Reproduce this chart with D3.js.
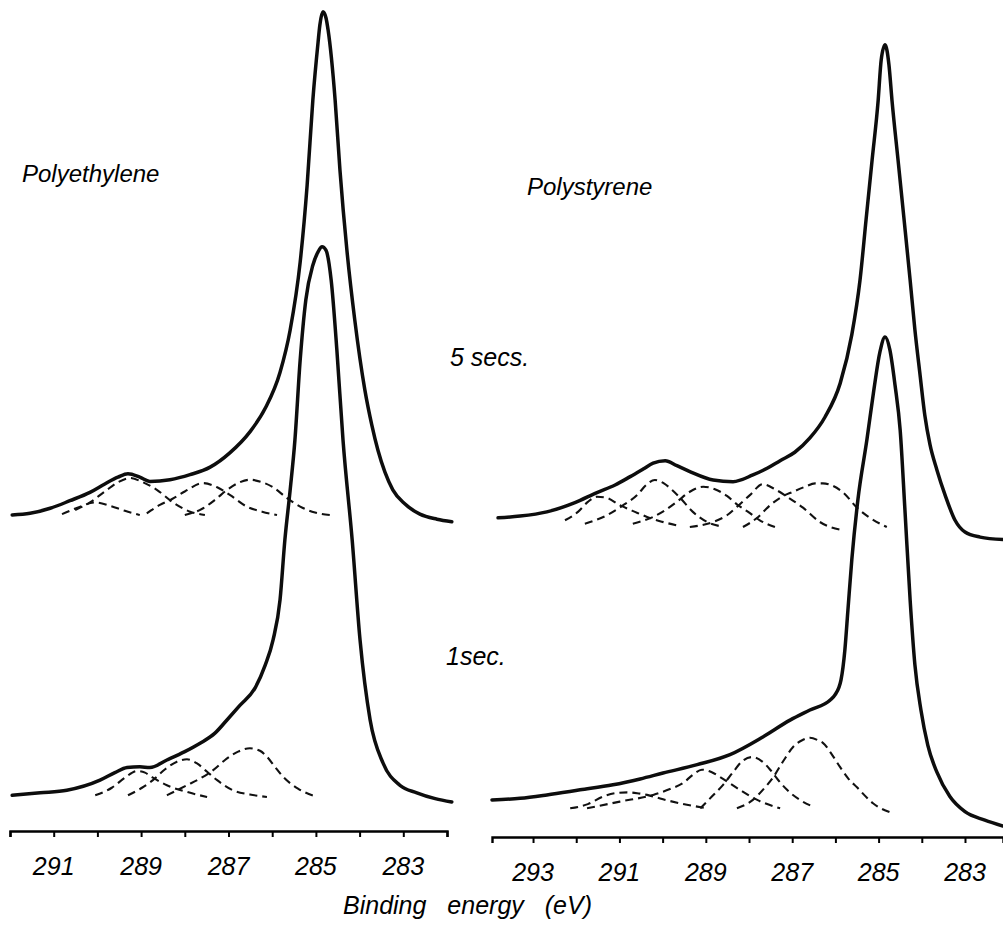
<!DOCTYPE html>
<html><head><meta charset="utf-8">
<script src="https://cdn.jsdelivr.net/npm/d3@7"></script>
<style>body{margin:0;background:#fff}svg{display:block}</style>
</head><body><svg id="c" width="1003" height="928"></svg>
<script>
// ---------- DATA (binding energy in eV, intensity in arbitrary units) ----------
// Polyethylene, 5 secs (measured envelope)
const pe5E = [291.95,291.54,291.08,290.63,290.17,289.83,289.53,289.30,289.03,288.80,288.34,287.88,287.42,286.97,286.51,286.16,285.82,285.59,285.36,285.20,285.07,284.95,284.91,284.84,284.77,284.72,284.56,284.45,284.29,284.11,283.88,283.72,283.58,283.42,283.24,282.96,282.62,282.23,281.89];
const pe5I = [0,0.2,0.8,1.7,2.7,3.7,4.5,4.9,4.5,4.0,4.2,4.8,5.7,7.4,9.9,12.7,17.0,22.0,30.1,39.3,49.4,56.3,58.3,59.9,59.2,57.7,49.4,41.1,31.5,23.2,14.9,10.7,7.7,5.1,3.0,1.3,0.1,-0.5,-0.8];
// Polyethylene, 1 sec
const pe1E = [291.95,291.31,290.70,289.94,289.60,289.32,289.03,288.80,288.41,288.00,287.65,287.31,287.03,286.74,286.39,286.16,285.98,285.82,285.71,285.59,285.48,285.36,285.23,285.07,284.95,284.86,284.77,284.65,284.52,284.38,284.17,283.99,283.76,283.46,283.08,282.69,282.27,281.89];
const pe1I = [0.2,0.5,0.8,2.0,2.9,3.5,3.6,3.5,4.4,5.4,6.4,7.6,9.2,10.9,13.0,15.7,18.7,23.5,30.6,36.5,42.5,52.0,59.2,63.3,64.9,65.5,65.1,61.5,53.2,42.5,30.6,18.7,9.2,4.0,1.4,0.5,-0.2,-0.6];
// Polystyrene, 5 secs
const ps5E = [293.81,293.30,292.68,292.03,291.52,291.10,290.75,290.45,290.22,289.94,289.67,289.37,288.83,288.37,287.91,287.58,287.28,286.94,286.59,286.24,285.89,285.62,285.43,285.29,285.15,285.01,284.94,284.85,284.76,284.69,284.55,284.41,284.27,284.16,284.04,283.93,283.81,283.65,283.46,283.23,283.00,282.65,282.12];
const ps5I = [0.5,0.7,1.2,2.3,3.5,4.4,5.4,6.3,7.0,7.3,6.7,6.0,5.0,4.8,5.6,6.4,7.3,8.3,10.0,12.5,16.5,22.3,28.8,36.0,43.1,50.2,55.0,56.8,54.4,50.2,43.1,36.0,28.8,22.9,17.5,12.7,9.2,6.2,3.2,0.2,-1.2,-1.8,-2.1];
// Polystyrene, 1 sec
const ps1E = [293.95,293.30,292.68,291.91,291.15,290.52,289.99,289.20,288.44,287.68,287.05,286.59,286.12,286.01,285.87,285.78,285.71,285.62,285.48,285.27,285.11,284.97,284.85,284.74,284.62,284.50,284.39,284.27,284.16,284.02,283.86,283.65,283.35,283.00,282.54,282.12];
const ps1I = [0.6,0.8,1.2,1.8,2.4,3.1,3.8,4.8,6.0,8.1,10.1,11.3,12.5,13.1,14.9,18.5,23.2,29.2,36.3,43.5,49.4,53.9,55.7,54.2,50.0,44.6,35.1,24.4,16.7,11.3,7.1,3.9,1.0,-0.8,-1.8,-2.5];

// Fitted component peaks (dashed), [energy, intensity]
const pe5PeakB = [[290.81,0.1],[290.44,0.9],[290.05,1.5],[289.71,1.1],[289.37,0.5],[289.03,0]];
const pe5PeakA = [[290.51,0.6],[290.17,1.5],[289.83,2.8],[289.53,3.9],[289.25,4.4],[288.96,3.9],[288.64,3.0],[288.27,1.5],[287.88,0.4],[287.54,0]];
const pe5PeakC = [[288.87,0.2],[288.57,1.2],[288.29,1.9],[288.00,2.8],[287.58,3.8],[287.26,3.3],[286.97,2.4],[286.58,1.0],[286.23,0.4],[285.89,0]];
const pe5PeakD = [[288.00,0],[287.58,0.8],[287.31,1.8],[287.03,3.0],[286.74,3.9],[286.51,4.2],[286.23,3.9],[285.98,3.3],[285.66,2.0],[285.36,1.0],[285.02,0.3],[284.68,0]];

const pe1PeakA = [[290.05,0.2],[289.67,1.1],[289.37,2.3],[289.09,3.1],[288.91,2.9],[288.73,2.3],[288.41,1.4],[287.95,0.6],[287.49,0]];
const pe1PeakB = [[289.30,0.2],[288.98,1.1],[288.73,2.0],[288.45,3.3],[288.18,4.2],[287.95,4.5],[287.72,4.0],[287.49,3.0],[287.26,2.0],[286.90,0.8],[286.51,0.3],[286.12,0]];
const pe1PeakC = [[288.41,0.2],[287.95,1.4],[287.65,2.2],[287.35,3.2],[287.08,4.4],[286.78,5.4],[286.51,5.8],[286.28,5.5],[286.12,4.8],[285.94,3.6],[285.75,2.4],[285.41,1.0],[284.97,0]];

const ps5Peak0 = [[292.26,0.2],[291.96,1.2],[291.73,2.4],[291.52,3.0],[291.31,2.9],[290.99,2.0],[290.64,1.2],[290.36,0.6],[290.06,0.1],[289.67,-0.4]];
const ps5Peak1 = [[291.80,-0.2],[291.29,0.8],[290.94,1.9],[290.59,3.2],[290.38,4.4],[290.18,5.0],[289.97,4.6],[289.78,3.8],[289.60,2.9],[289.30,1.2],[288.97,0],[288.67,-0.5]];
const ps5Peak2 = [[290.69,-0.2],[290.22,0.6],[289.94,1.4],[289.67,2.4],[289.37,3.6],[289.06,4.2],[288.79,3.9],[288.51,3.1],[288.28,2.1],[288.02,1.2],[287.75,0.2],[287.40,-0.6]];
const ps5Peak3 = [[289.37,-0.6],[288.83,0],[288.51,0.8],[288.28,1.8],[287.98,3.2],[287.68,4.5],[287.40,3.9],[287.12,3.0],[286.75,1.7],[286.36,0],[285.82,-1.0]];
const ps5Peak4 = [[288.14,-0.6],[287.81,0.5],[287.51,2.0],[287.24,3.0],[286.98,3.6],[286.70,4.2],[286.47,4.6],[286.29,4.6],[286.06,4.3],[285.82,3.5],[285.50,1.7],[285.20,0.5],[284.81,-0.6]];

const ps1Peak0 = [[292.14,-0.4],[291.73,0.1],[291.38,1.0],[291.10,1.4],[290.82,1.5],[290.59,1.4],[290.36,1.2],[290.01,0.7],[289.60,0.2],[288.97,-0.4]];
const ps1Peak1 = [[291.75,-0.4],[290.99,0.4],[290.22,1.2],[289.83,1.9],[289.53,2.6],[289.30,3.6],[289.09,4.2],[288.86,3.9],[288.63,3.2],[288.21,1.8],[287.81,0.6],[287.28,-0.4]];
const ps1Peak2 = [[289.13,-0.4],[288.86,1.0],[288.60,2.4],[288.37,3.9],[288.16,5.2],[287.93,5.7],[287.70,5.2],[287.51,4.2],[287.33,3.0],[287.12,1.8],[286.82,0.6],[286.52,-0.2]];
const ps1Peak3 = [[288.28,-0.4],[287.91,0.6],[287.68,1.8],[287.44,3.3],[287.21,5.2],[286.98,6.9],[286.77,7.7],[286.59,8.0],[286.40,7.7],[286.29,7.4],[286.08,6.0],[285.89,4.5],[285.71,3.2],[285.50,2.1],[285.13,0.2],[284.67,-1.0]];

// vertical stacking offsets of each spectrum (intensity units)
const pe5Offset = 38.69, pe1Offset = 5.12, ps5Offset = 37.86, ps1Offset = 4.17;

// axis ticks and labels
const leftTicks = [282,283,284,285,286,287,288,289,290,291,292];
const leftLabels = [291,289,287,285,283];
const rightTicks = [283,284,285,286,287,288,289,290,291,292,293];
const rightLabels = [293,291,289,287,285,283];
const panelTitles = ["Polyethylene","Polystyrene"];
const timeLabels = ["5 secs.","1sec."];
const xTitle = "Binding energy (eV)";

// ---------- DRAWING ----------
const svg = d3.select("#c");
svg.append("rect").attr("width",1003).attr("height",928).attr("fill","#fff");
const y = d3.scaleLinear().domain([0,100]).range([840,0]);
const xL = d3.scaleLinear().domain([292,282]).range([10,447]);
const xR = d3.scaleLinear().domain([293.95,282.12]).range([492,1003]);
const font = "'Liberation Sans', Arial, sans-serif";

function zip(E,I){ return E.map((e,i)=>[e,I[i]]); }
function lineFor(x, off){
  return d3.line().x(d=>x(d[0])).y(d=>y(d[1]+off)).curve(d3.curveMonotoneX);
}
function dashed(x, off, pts){
  svg.append("path").attr("d", lineFor(x,off)(pts))
    .attr("fill","none").attr("stroke","#111").attr("stroke-width",2.1)
    .attr("stroke-dasharray","8,5");
}
function solid(x, off, pts){
  svg.append("path").attr("d", lineFor(x,off)(pts))
    .attr("fill","none").attr("stroke","#0d0d0d").attr("stroke-width",3.5)
    .attr("stroke-linejoin","round").attr("stroke-linecap","round");
}

[pe5PeakB,pe5PeakA,pe5PeakC,pe5PeakD].forEach(p=>dashed(xL,pe5Offset,p));
[pe1PeakA,pe1PeakB,pe1PeakC].forEach(p=>dashed(xL,pe1Offset,p));
[ps5Peak0,ps5Peak1,ps5Peak2,ps5Peak3,ps5Peak4].forEach(p=>dashed(xR,ps5Offset,p));
[ps1Peak0,ps1Peak1,ps1Peak2,ps1Peak3].forEach(p=>dashed(xR,ps1Offset,p));

solid(xL,pe1Offset,zip(pe1E,pe1I));
solid(xL,pe5Offset,zip(pe5E,pe5I));
solid(xR,ps1Offset,zip(ps1E,ps1I));
solid(xR,ps5Offset,zip(ps5E,ps5I));

// axes
function drawAxis(x, ticks, labels, yPos){
  const g = svg.append("g").attr("transform",`translate(0,${yPos})`)
    .call(d3.axisBottom(x).tickValues(ticks).tickSize(6).tickSizeOuter(6).tickFormat(""));
  g.select(".domain").attr("stroke","#000").attr("stroke-width",2.4);
  g.selectAll(".tick line").attr("stroke","#000").attr("stroke-width",2);
  svg.selectAll(null).data(labels).enter().append("text")
    .attr("x",d=>x(d)).attr("y",yPos+44)
    .attr("text-anchor","middle")
    .attr("font-family",font).attr("font-style","italic")
    .attr("font-size",25).attr("fill","#000")
    .text(d=>d);
}
drawAxis(xL, leftTicks, leftLabels, 831);
drawAxis(xR, rightTicks, rightLabels, 837);

svg.append("text").attr("x",343).attr("y",914)
  .attr("font-family",font).attr("font-style","italic").attr("font-size",25)
  .attr("word-spacing",14).text(xTitle);

svg.append("text").attr("x",22).attr("y",182)
  .attr("font-family",font).attr("font-style","italic").attr("font-size",24).text(panelTitles[0]);
svg.append("text").attr("x",527).attr("y",195)
  .attr("font-family",font).attr("font-style","italic").attr("font-size",24).text(panelTitles[1]);
svg.append("text").attr("x",450).attr("y",366)
  .attr("font-family",font).attr("font-style","italic").attr("font-size",25).text(timeLabels[0]);
svg.append("text").attr("x",446).attr("y",665)
  .attr("font-family",font).attr("font-style","italic").attr("font-size",25).text(timeLabels[1]);
</script>
</body></html>
